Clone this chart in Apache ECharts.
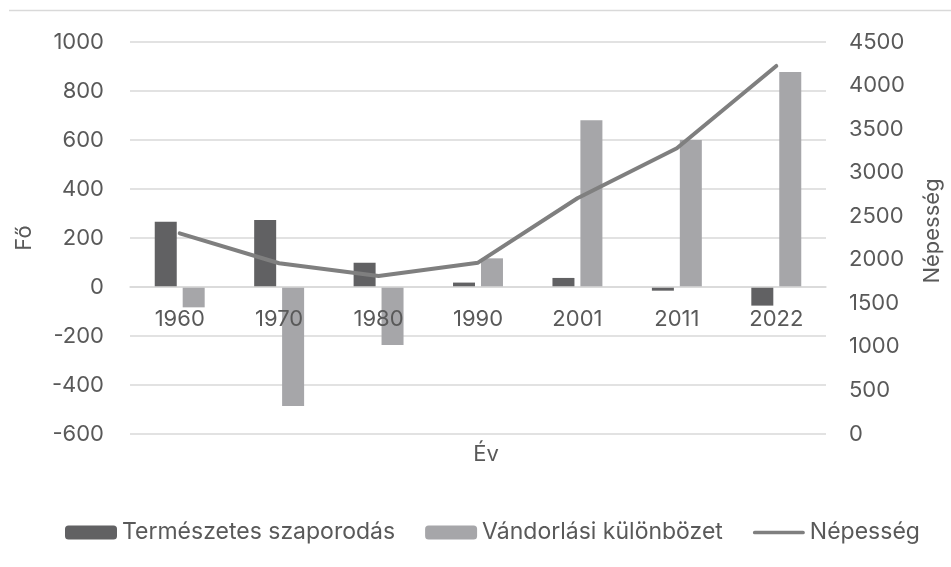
<!DOCTYPE html>
<html>
<head>
<meta charset="utf-8">
<script src="https://cdn.jsdelivr.net/npm/echarts@6/dist/echarts.min.js"></script>
<style>
  html, body { margin: 0; padding: 0; background: #fff; }
  #chart { width: 951px; height: 567px; }
</style>
</head>
<body>
<div id="chart"></div>
<script>
// adatok (leolvasva az ábráról)
const years = ['1960', '1970', '1980', '1990', '2001', '2011', '2022'];
const termeszetes = [266, 273, 99, 18, 37, -15, -76];
const vandorlasi = [-83, -486, -237, 117, 681, 600, 878];
const nepesseg = [2304, 1960, 1814, 1967, 2706, 3280, 4225];

const textColor = '#595959';
const font = 'Inter';
const fs = 22;

const chart = echarts.init(document.getElementById('chart'));
chart.setOption({
  animation: false,
  textStyle: { fontFamily: font, color: textColor },
  graphic: [{
    type: 'line',
    shape: { x1: 9, y1: 10.5, x2: 951, y2: 10.5 },
    style: { stroke: '#d9d9d9', lineWidth: 1.5 }
  }],
  title: {
    text: 'Év',
    left: 481,
    top: 438,
    textAlign: 'center',
    textStyle: { fontFamily: font, fontSize: fs, fontWeight: 'normal', color: textColor }
  },
  grid: { left: 130, right: 119, top: 42, bottom: 133 },
  legend: {
    left: 60,
    top: 516,
    itemWidth: 52,
    itemHeight: 14,
    itemGap: 30,
    textStyle: { fontFamily: font, fontSize: 23, color: textColor },
    data: [
      'Természetes szaporodás',
      'Vándorlási különbözet',
      { name: 'Népesség', icon: 'path://M2,0 L54,0 A2,2 0 0 1 54,4 L2,4 A2,2 0 0 1 2,0 Z' }
    ]
  },
  xAxis: {
    type: 'category',
    data: years,
    z: 5,
    // a tengely a 0 szintjén fut (-147 px a rács aljától)
    offset: -147,
    axisLine: { onZero: false, lineStyle: { color: '#d9d9d9', width: 1.5 } },
    axisTick: { show: false },
    axisLabel: { fontFamily: font, fontSize: fs, color: textColor, margin: 21 }
  },
  yAxis: [{
    type: 'value',
    min: -600,
    max: 1000,
    interval: 200,
    name: 'Fő',
    nameLocation: 'middle',
    nameGap: 95,
    nameTextStyle: { fontFamily: font, fontSize: fs, color: textColor },
    axisLine: { show: false },
    axisTick: { show: false },
    axisLabel: { fontFamily: font, fontSize: fs, color: textColor, margin: 26, formatter: v => String(v) },
    splitLine: { lineStyle: { color: '#d9d9d9', width: 1.5 } }
  }, {
    type: 'value',
    min: 0,
    max: 4500,
    interval: 500,
    name: 'Népesség',
    nameLocation: 'middle',
    nameGap: 95,
    nameTextStyle: { fontFamily: font, fontSize: fs, color: textColor, padding: [0, 0, 0, 14] },
    axisLine: { show: false },
    axisTick: { show: false },
    axisLabel: { fontFamily: font, fontSize: fs, color: textColor, margin: 23, formatter: v => String(v) },
    splitLine: { show: false }
  }],
  series: [{
    name: 'Természetes szaporodás',
    type: 'bar',
    data: termeszetes,
    barWidth: 22,
    barGap: '27%',
    itemStyle: { color: '#616163' }
  }, {
    name: 'Vándorlási különbözet',
    type: 'bar',
    data: vandorlasi,
    barWidth: 22,
    itemStyle: { color: '#a6a6a9' }
  }, {
    name: 'Népesség',
    type: 'line',
    yAxisIndex: 1,
    data: nepesseg,
    symbol: 'none',
    lineStyle: { color: '#7f7f7f', width: 4, cap: 'round' },
    itemStyle: { color: '#7f7f7f' }
  }]
});
</script>
</body>
</html>
